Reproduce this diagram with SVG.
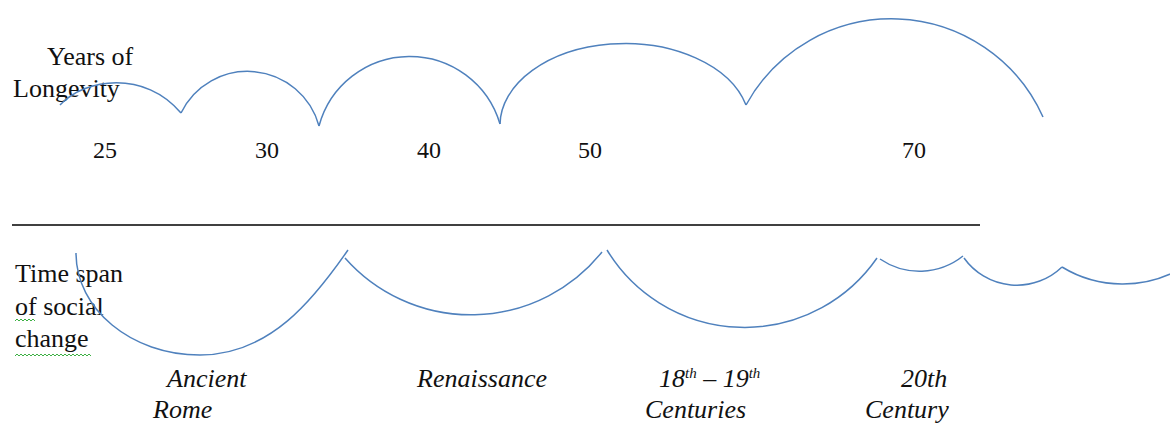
<svg xmlns="http://www.w3.org/2000/svg" width="1170" height="423" viewBox="0 0 1170 423">
  <style>
    .arc { fill: none; stroke: #4f81bd; stroke-width: 1.5; }
    .t { font-size: 26px; fill: #111; }
    .n { font-size: 24px; fill: #111; }
    .i { font-size: 26px; font-style: italic; fill: #111; }
    .sup { font-size: 15px; }
    .squig { fill: none; stroke: #3cb043; stroke-width: 1; }
  </style>
  <rect width="1170" height="423" fill="#ffffff"/>

  <g font-family="Liberation Serif, serif">
  <g id="longevity-label">
    <text class="t" x="47" y="65">Years of</text>
    <text class="t" x="13" y="97">Longevity</text>
  </g>

  <g id="social-label">
    <text class="t" x="15" y="282">Time span</text>
    <text class="t" x="15" y="315">of social</text>
    <text class="t" x="15" y="347">change</text>
    <path class="squig" d="M15,321 l2,-2 l2,2 l2,-2 l2,2 l2,-2 l2,2 l2,-2 l2,2 l2,-2 l2,2"/>
    <path class="squig" d="M15,356 l2,-2 l2,2 l2,-2 l2,2 l2,-2 l2,2 l2,-2 l2,2 l2,-2 l2,2 l2,-2 l2,2 l2,-2 l2,2 l2,-2 l2,2 l2,-2 l2,2 l2,-2 l2,2 l2,-2 l2,2 l2,-2 l2,2 l2,-2 l2,2 l2,-2 l2,2 l2,-2 l2,2 l2,-2 l2,2 l2,-2 l2,2 l2,-2 l2,2 l2,-2 l2,2"/>
  </g>

  <g id="numbers">
    <text class="n" x="93" y="158">25</text>
    <text class="n" x="255" y="158">30</text>
    <text class="n" x="417" y="158">40</text>
    <text class="n" x="578" y="158">50</text>
    <text class="n" x="902" y="158">70</text>
  </g>

  <g id="era-labels">
    <text class="i" x="167" y="387">Ancient</text>
    <text class="i" x="153" y="418">Rome</text>
    <text class="i" x="417" y="387">Renaissance</text>
    <text class="i" x="659" y="387">18<tspan class="sup" dy="-9">th</tspan><tspan dy="9"> – 19</tspan><tspan class="sup" dy="-9">th</tspan></text>
    <text class="i" x="645" y="418">Centuries</text>
    <text class="i" x="901" y="387">20th</text>
    <text class="i" x="865" y="418">Century</text>
  </g>
  </g>

  <g id="divider">
    <line x1="12" y1="225" x2="980" y2="225" stroke="#000" stroke-width="1.5"/>
  </g>

  <g id="longevity-arcs">
    <path class="arc" d="M60,105 C85,78 145,70 181,113"/>
    <path class="arc" d="M181,113 A74,74 0 0,1 319,126"/>
    <path class="arc" d="M319,126 A94,94 0 0,1 500,124"/>
    <path class="arc" d="M500,124 A125,82 0 0,1 746,105"/>
    <path class="arc" d="M746,105 A166,166 0 0,1 1043,117"/>
  </g>

  <g id="social-arcs">
    <path class="arc" d="M76,253 C76,309 131,355 200,355 C270,355 314,299 348,250"/>
    <path class="arc" d="M345,258 A168,168 0 0,0 602,252"/>
    <path class="arc" d="M607,250 A161,161 0 0,0 877,258"/>
    <path class="arc" d="M880,259 A70,70 0 0,0 963,256"/>
    <path class="arc" d="M964,258 A65,65 0 0,0 1062,267"/>
    <path class="arc" d="M1062,267 A117,117 0 0,0 1182,268"/>
  </g>
</svg>
